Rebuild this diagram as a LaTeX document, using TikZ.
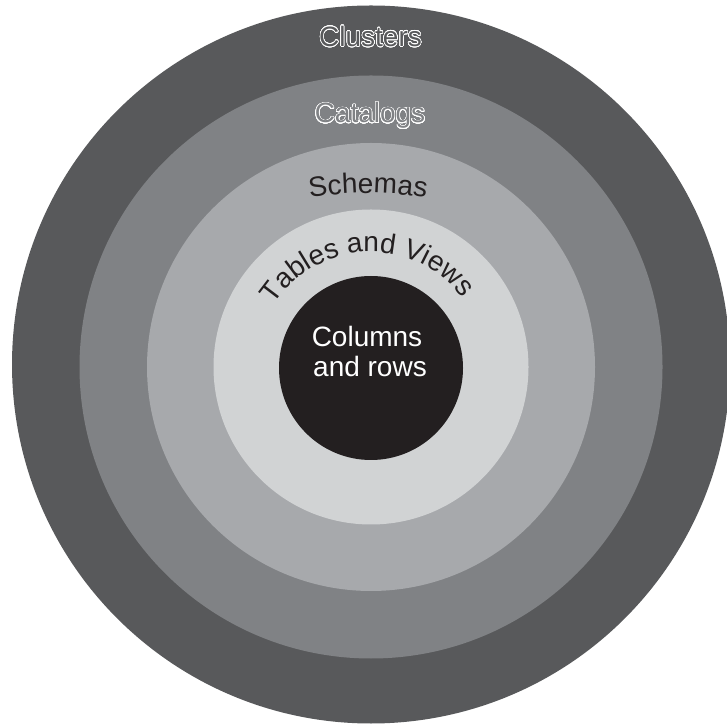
\documentclass[tikz,border=0pt]{standalone}
\usepackage{fontspec}
\setmainfont{Liberation Sans}
\usepackage{contour}
\usetikzlibrary{decorations.text}
\definecolor{ringA}{HTML}{58595B}
\definecolor{ringB}{HTML}{808285}
\definecolor{ringC}{HTML}{A7A9AC}
\definecolor{ringD}{HTML}{D1D3D4}
\definecolor{coreC}{HTML}{231F20}
\contourlength{0.6pt}
\contournumber{32}
\newcommand\lblfont{\fontsize{28}{30}\selectfont}
\begin{document}
\begin{tikzpicture}[x=1pt,y=1pt,
  lbl/.style={inner sep=0pt, anchor=base, font=\lblfont}]
\useasboundingbox (0,0) rectangle (727,725);
\fill[ringA] (371,360.5) circle[radius=359];
\fill[ringB] (371,358) circle[radius=291.5];
\fill[ringC] (371,358) circle[radius=224];
\fill[ringD] (371,358) circle[radius=157.5];
\fill[coreC] (371,357) circle[radius=92];
\node[lbl] (clusters) at (370.5,678.5) {\contour{white}{\textcolor{ringA}{Clusters}}};
\node[lbl] (catalogs) at (370,602) {\contour{white}{\textcolor{ringB}{Catalogs}}};
\path[decorate, decoration={text along path, text align=center, text={|\lblfont\color{coreC}|Schemas}}] (368,182) ++(110:350) arc[start angle=110, end angle=70, radius=350];
\path[decorate, decoration={text along path, text align=center, text={|\lblfont\color{coreC}|Tables and Views}}] (370.5,358) ++(160:115) arc[start angle=160, end angle=24, radius=115];
\node[lbl, text=white] (colA) at (367,378) {Columns};
\node[lbl, text=white] (colB) at (370,348) {and rows};
\end{tikzpicture}
\end{document}
